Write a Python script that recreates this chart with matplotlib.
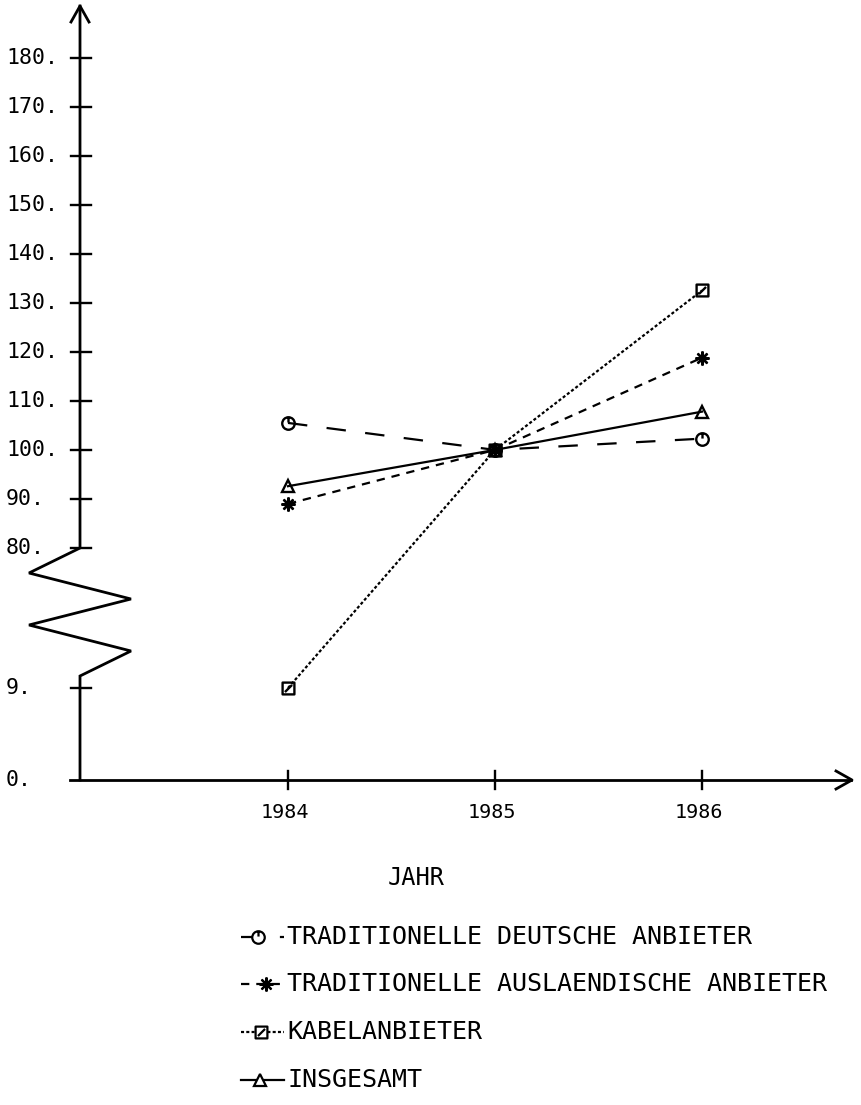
import numpy as np
import matplotlib
matplotlib.use("Agg")
import matplotlib.pyplot as plt
from matplotlib.path import Path
from matplotlib.lines import Line2D
from matplotlib.transforms import Affine2D, blended_transform_factory

plt.rcParams['lines.scale_dashes'] = False
FONT = 'DejaVu Sans Mono'

# ---- data ----
years = [1984, 1985, 1986]
deutsche = [105.5, 100.0, 102.3]
auslaendische = [89.0, 100.0, 118.8]
kabel = [9.0, 100.0, 132.5]
insgesamt = [92.6, 100.0, 107.8]
series_names = ["TRADITIONELLE DEUTSCHE ANBIETER",
                "TRADITIONELLE AUSLAENDISCHE ANBIETER",
                "KABELANBIETER",
                "INSGESAMT"]
ytick_values = [0, 9, 80, 90, 100, 110, 120, 130, 140, 150, 160, 170, 180]
ytick_labels = ["0.", "9.", "80.", "90.", "100.", "110.", "120.", "130.",
                "140.", "150.", "160.", "170.", "180."]
xlabel = "JAHR"

W, H = 861, 1105
fig = plt.figure(figsize=(W / 100, H / 100), dpi=100)
PIX = Affine2D().scale(1 / W, -1 / H).translate(0, 1) + fig.transFigure

# broken y scale: pixels above x-axis
V_KN = np.array([-100.0, 0.0, 9.0, 80.0, 400.0])
P_KN = np.array([-1020.0, 0.0, 92.0, 232.0, 232.0 + 320 * 4.905])
fwd = lambda v: np.interp(v, V_KN, P_KN)
inv = lambda p: np.interp(p, P_KN, V_KN)

X0 = 780  # pixel row of x-axis
ax = fig.add_axes([0, (H - X0) / H, 1, X0 / H])
ax.set_yscale('function', functions=(fwd, inv))
ax.set_xlim(1984 - 288 / 207, 1986 + (W - 702) / 207)
ax.set_ylim(0, inv(X0))
ax.axis('off')

lw = 1.6
circ = Path.unit_circle()
circ_marker = Path(np.concatenate([circ.vertices, [[0, 1], [0, 0.15]]]),
                   np.concatenate([circ.codes, [Path.MOVETO, Path.LINETO]]))
sq_marker = Path([[-1, -1], [1, -1], [1, 1], [-1, 1], [-1, -1], [-0.6, -0.6], [0.6, 0.6]],
                 [Path.MOVETO, Path.LINETO, Path.LINETO, Path.LINETO, Path.CLOSEPOLY,
                  Path.MOVETO, Path.LINETO])

styles = [
    dict(ls=(0, (14, 14)), marker=circ_marker, ms=9),
    dict(ls=(0, (6, 5)), marker=(8, 2, 0), ms=10),
    dict(ls=(0, (2.2, 1.6)), marker=sq_marker, ms=8.5),
    dict(ls='-', marker='^', ms=9),
]
data = [deutsche, auslaendische, kabel, insgesamt]
for d, st in zip(data, styles):
    ax.plot(years, d, color='black', lw=lw, ls=st['ls'], marker=st['marker'],
            ms=st['ms'], mfc='none', mec='black', mew=1.7, clip_on=False, zorder=3)

# ---- axes decorations ----
axlw = 2.0
# y-axis with break zigzag
zig_x = [80, 80, 131, 29, 131, 29, 80, 80]
zig_y = [780, 676, 651, 625, 599, 573, 548, 6]
fig.add_artist(Line2D(zig_x, zig_y, transform=PIX, color='black', lw=axlw,
                      solid_joinstyle='miter'))
fig.add_artist(Line2D([71, 80, 89], [22, 6, 22], transform=PIX, color='black', lw=axlw))
# x-axis
fig.add_artist(Line2D([70, 851], [780, 780], transform=PIX, color='black', lw=axlw))
fig.add_artist(Line2D([836, 852, 836], [771, 780, 789], transform=PIX, color='black', lw=axlw))

# y ticks & labels
ytr = blended_transform_factory(PIX, ax.transData)
for v, lab in zip(ytick_values, ytick_labels):
    if v != 0:
        ax.plot([71, 91], [v, v], transform=ytr, color='black', lw=1.7, clip_on=False)
    ax.text(6, v, lab, transform=ytr, ha='left', va='center', fontsize=15.5,
            family=FONT)

# x ticks & labels
xtr = blended_transform_factory(ax.transData, PIX)
for yv in years:
    ax.plot([yv, yv], [771, 789], transform=xtr, color='black', lw=1.7, clip_on=False)
    ax.text(yv - 0.015, 813, str(yv), transform=xtr, ha='center', va='center',
            fontsize=14.5, family=FONT)

fig.text(416 / W, 1 - 878 / H, xlabel, ha='center', va='center', fontsize=17, family=FONT)

# ---- legend ----
rows = [937, 984, 1032, 1080]
mpos = [258, 266, 261, 260]
for i, (name, st) in enumerate(zip(series_names, styles)):
    y = rows[i]
    fig.add_artist(Line2D([241, 284], [y, y], transform=PIX, color='black', lw=lw,
                          ls=st['ls']))
    fig.add_artist(Line2D([mpos[i]], [y], transform=PIX, color='black', lw=0,
                          marker=st['marker'], ms=st['ms'], mfc='white', mec='black',
                          mew=1.6))
    fig.text(287 / W, 1 - y / H, name, ha='left', va='center', fontsize=18, family=FONT)

fig.savefig('out.png', dpi=100)
